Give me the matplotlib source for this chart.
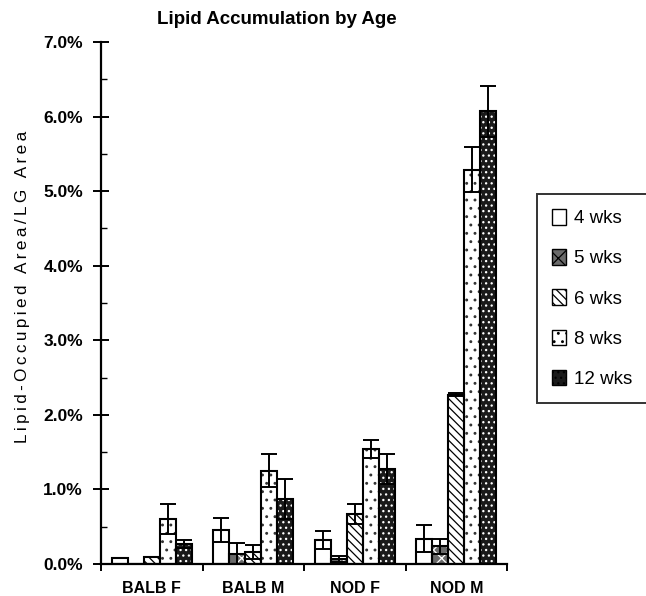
import matplotlib
matplotlib.use("Agg")
import matplotlib.pyplot as plt
import numpy as np
from matplotlib.patches import Patch

plt.rcParams["font.family"] = ["Liberation Sans", "DejaVu Sans"]
plt.rcParams["hatch.linewidth"] = 0.9

# data (percent of LG area)
groups = ["BALB F", "BALB M", "NOD F", "NOD M"]
ages = ["4 wks", "5 wks", "6 wks", "8 wks", "12 wks"]
means = {
    "4 wks": [0.08, 0.46, 0.32, 0.34],
    "5 wks": [0.00, 0.13, 0.07, 0.24],
    "6 wks": [0.09, 0.16, 0.67, 2.27],
    "8 wks": [0.60, 1.25, 1.54, 5.29],
    "12 wks": [0.27, 0.87, 1.27, 6.07],
}
errs = {
    "4 wks": [0.0, 0.16, 0.12, 0.18],
    "5 wks": [0.0, 0.15, 0.04, 0.10],
    "6 wks": [0.0, 0.09, 0.13, 0.02],
    "8 wks": [0.20, 0.22, 0.12, 0.30],
    "12 wks": [0.05, 0.27, 0.20, 0.34],
}
yticks = [0, 1, 2, 3, 4, 5, 6, 7]

# face, hatch colour, hatch
styles = {
    "4 wks": ("white", "black", ""),
    "5 wks": ("#6a6a6a", "white", "xx"),
    "6 wks": ("white", "black", "\\\\\\\\"),
    "8 wks": ("white", "#333333", ".."),
    "12 wks": ("#1a1a1a", "white", "..."),
}

fig = plt.figure(figsize=(6.46, 5.96), dpi=100)
ax = fig.add_axes([101 / 646, 1 - 564 / 596, 406 / 646, 522 / 596])

x = np.arange(len(groups))
w = 0.158
for i, a in enumerate(ages):
    pos = x + (i - 2) * w
    face, hc, hatch = styles[a]
    ax.bar(pos, means[a], w, color=face, edgecolor=hc, hatch=hatch, linewidth=0, zorder=2)
    ax.bar(pos, means[a], w, fill=False, edgecolor="black", linewidth=1.5, zorder=3)
    ax.errorbar(pos, means[a], yerr=errs[a], fmt="none", ecolor="black",
                elinewidth=1.4, capsize=6, capthick=1.4, zorder=4)

ax.set_xlim(-0.5, len(groups) - 0.5)
ax.set_ylim(0, 7.0)
ax.set_yticks(yticks)
ax.set_yticklabels([f"{v:.1f}%" for v in yticks], fontsize=12.5, fontweight="bold")
ax.set_yticks(np.arange(0.5, 7, 1), minor=True)
ax.tick_params(axis="y", which="major", direction="inout", length=12, width=1.4, pad=7)
ax.tick_params(axis="y", which="minor", direction="in", length=4, width=1.0)

ax.set_xticks(x)
ax.set_xticklabels(groups, fontsize=11.5, fontweight="bold")
ax.tick_params(axis="x", which="major", length=0, pad=12)
ax.set_xticks(np.arange(-0.5, len(groups)), minor=True)
ax.tick_params(axis="x", which="minor", direction="out", length=5, width=1.4)

for s in ["top", "right"]:
    ax.spines[s].set_visible(False)
for s in ["left", "bottom"]:
    ax.spines[s].set_linewidth(1.6)

ylabel = "\u2009".join("Lipid-Occupied Area/LG Area")
fig.text(23 / 646, 1 - 287 / 596, ylabel, rotation=90, ha="center", va="center", fontsize=12.3)
fig.text(277 / 646, 1 - 20 / 596, "Lipid Accumulation by Age", ha="center", va="center",
         fontsize=13.5, fontweight="bold")

handles = [Patch(facecolor=styles[a][0], edgecolor="black", hatch=styles[a][2]) for a in ages]
leg = fig.legend(handles, ages, loc="upper left", bbox_to_anchor=(537 / 646, 1 - 194 / 596),
                 frameon=True, fancybox=False, edgecolor="black", fontsize=13.5,
                 handlelength=0.75, handleheight=0.9, handletextpad=0.4, labelspacing=1.17,
                 borderpad=0.8, borderaxespad=0)
leg.get_frame().set_linewidth(1.4)

fig.savefig("out.png", dpi=100)
